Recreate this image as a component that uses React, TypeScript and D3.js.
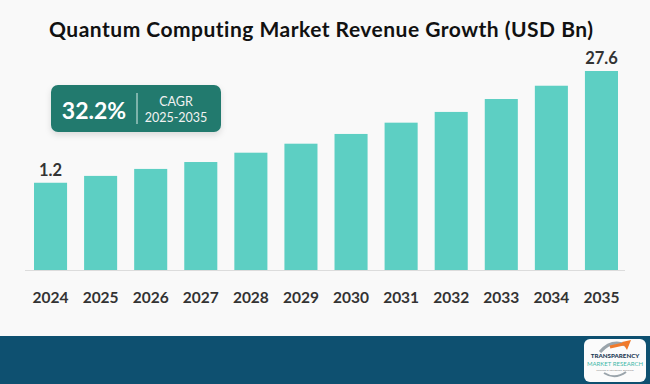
import React from 'react'
import * as d3 from 'd3'

const years = ['2024', '2025', '2026', '2027', '2028', '2029', '2030', '2031', '2032', '2033', '2034', '2035']
const revenue = [1.2, 1.6, 2.1, 2.7, 3.7, 4.9, 6.5, 8.8, 11.5, 15.5, 20.6, 27.6]
const labelled = ['2024', '2035']

const title = 'Quantum Computing Market Revenue Growth (USD Bn)'
const cagrValue = '32.2%'
const cagrLabel = 'CAGR'
const cagrPeriod = '2025-2035'

const width = 650
const height = 384
const margin = { top: 71, right: 24, bottom: 114, left: 26 }

const barColor = '#5dcfc3'
const boxColor = '#237a6e'
const bandColor = '#0e5070'
const textColor = '#333333'
const font = 'Lato, "Open Sans", sans-serif'

export default function App() {
    const x = d3.scaleBand()
        .domain(years)
        .range([margin.left - 0.5, width - margin.right + 0.5])
        .paddingInner(0.34)
        .paddingOuter(0.17)

    // bars in the source are drawn on a compressed (power) scale
    const y = d3.scalePow()
        .exponent(0.263)
        .domain([0, d3.max(revenue)])
        .range([height - margin.bottom, margin.top])

    const base = y(0)

    return (
        <svg width={width} height={height} viewBox={`0 0 ${width} ${height}`}
            style={{ position: 'fixed', left: 0, top: 0, display: 'block' }}>
            <defs>
                <filter id="shadow" x="-20%" y="-30%" width="140%" height="180%">
                    <feDropShadow dx="0" dy="3" stdDeviation="3" floodColor="#000" floodOpacity="0.12" />
                </filter>
            </defs>
            <rect width={width} height={height} fill="#f9f9f9" />

            <text x={49} y={37} fontFamily={font} fontWeight={700} fontSize={21}
                textLength={544} lengthAdjust="spacing"
                style={{ fontVariantLigatures: 'none' }} fill="#111">{title}</text>

            {/* baseline */}
            <line x1={25} x2={625} y1={base + 0.5} y2={base + 0.5} stroke="#dcdcdc" strokeWidth={1} />

            <g fill={barColor}>
                {years.map((yr, i) => (
                    <rect key={yr} x={x(yr)} y={y(revenue[i])}
                        width={x.bandwidth()} height={base - y(revenue[i])} />
                ))}
            </g>

            <g fontFamily={font} fontWeight={700} fill={textColor} textAnchor="middle">
                {years.map((yr, i) => labelled.includes(yr) ? (
                    <text key={yr} x={x(yr)! + x.bandwidth() / 2} y={y(revenue[i]) - 7}
                        fontSize={16.5}>{revenue[i]}</text>
                ) : null)}
                {years.map(yr => (
                    <text key={yr} x={x(yr)! + x.bandwidth() / 2} y={303} fontSize={15.5}>{yr}</text>
                ))}
            </g>

            {/* CAGR callout */}
            <g>
                <rect x={51} y={85} width={170} height={47} rx={7} fill={boxColor} filter="url(#shadow)" />
                <text x={94} y={119} textAnchor="middle" fontFamily={font} fontWeight={700}
                    fontSize={23} fill="#fff">{cagrValue}</text>
                <line x1={137} x2={137} y1={93} y2={124} stroke="#d9ece8" strokeWidth={1} />
                <text x={176} y={106} textAnchor="middle" fontFamily={font} fontSize={12.5} fill="#f2f2f2">{cagrLabel}</text>
                <text x={176} y={122} textAnchor="middle" fontFamily={font} fontSize={12.5} fill="#f2f2f2">{cagrPeriod}</text>
            </g>

            {/* footer band with logo */}
            <rect x={0} y={336} width={width} height={height - 336} fill={bandColor} />
            <rect x={584} y={339} width={62} height={43} rx={6} fill="#fbfbfb" />
            <path d="M600 352 Q612 338 628 346" fill="none" stroke="#9aa4ab" strokeWidth={3} />
            <path d="M622 342 L631 340 L627 350 Z" fill="#f07a2b" />
            <path d="M610 347 L628 343" stroke="#f07a2b" strokeWidth={3} />
            <text x={615} y={358} textAnchor="middle" fontFamily={font} fontWeight={900} fontSize={6.2} fill="#1d3a55">TRANSPARENCY</text>
            <text x={615} y={366} textAnchor="middle" fontFamily={font} fontSize={6} fill="#3fb8a8">MARKET RESEARCH</text>
            <text x={615} y={371} textAnchor="middle" fontFamily={font} fontSize={2.5} fill="#888">Thinking of Intelligence. Decisions</text>
            <path d="M604 373 Q615 380 626 372" fill="none" stroke="#9aa4ab" strokeWidth={2} />
        </svg>
    )
}
